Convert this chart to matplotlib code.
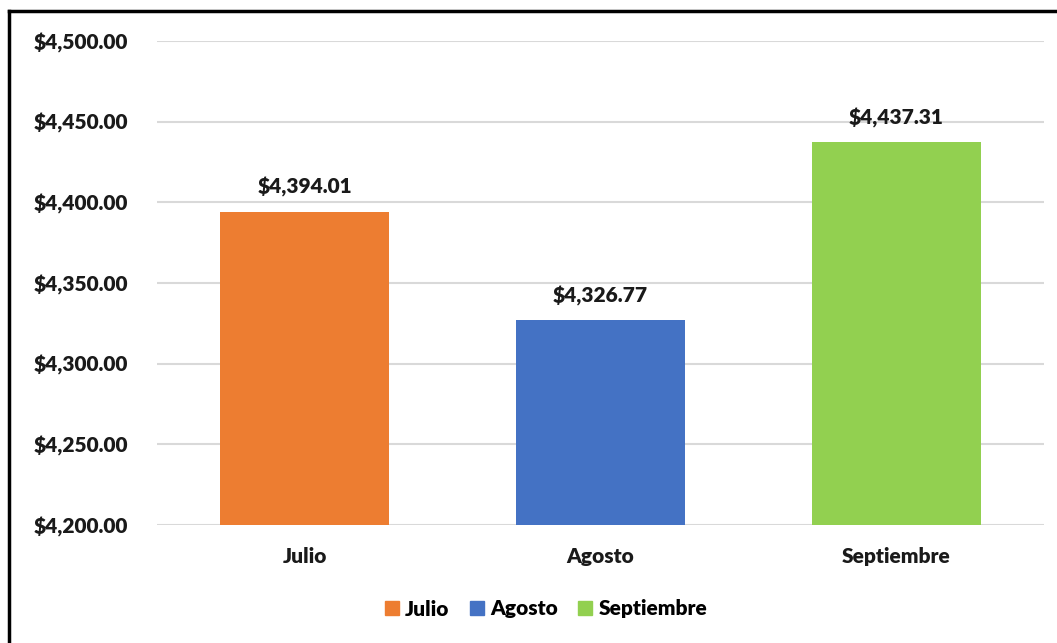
import matplotlib.pyplot as plt
from matplotlib.patches import Patch
from matplotlib.lines import Line2D

meses = ["Julio", "Agosto", "Septiembre"]
valores = [4394.01, 4326.77, 4437.31]
colores = ["#ED7D31", "#4472C4", "#92D050"]
yticks = [4200, 4250, 4300, 4350, 4400, 4450, 4500]

plt.rcParams['font.family'] = ['Lato', 'DejaVu Sans']
plt.rcParams['font.weight'] = 'heavy'

fig = plt.figure(figsize=(10.57, 6.43), dpi=100)
ax = fig.add_axes([157/1057, 1 - 525/643, (1044 - 157)/1057, (525 - 41)/643])

x = range(len(meses))
ax.bar(x, [v - 4200 for v in valores], bottom=4200, width=0.571, color=colores, zorder=3)
for i, v in enumerate(valores):
    ax.text(i, v + 9, "${:,.2f}".format(v), ha="center", va="bottom",
            fontsize=15, fontweight="heavy", color="#1a1a1a")

ax.set_xlim(-0.5, 2.5)
ax.set_ylim(4200, 4500)
ax.set_yticks(yticks)
ax.set_yticklabels(["${:,.2f}".format(t) for t in yticks])
ax.set_xticks(list(x))
ax.set_xticklabels(meses)
ax.tick_params(axis="y", length=0, pad=21, labelsize=15, labelcolor="#1a1a1a")
ax.tick_params(axis="x", length=0, pad=16, labelsize=15, labelcolor="#1a1a1a")
ax.yaxis.grid(True, color="#D9D9D9", linewidth=1.5, zorder=0)
for s in ax.spines.values():
    s.set_visible(False)

handles = [Patch(color=c) for c in colores]
fig.legend(handles, meses, loc="center", bbox_to_anchor=(546/1057, 1 - 609/643), ncol=3,
           frameon=False, fontsize=15, handlelength=0.65, handleheight=0.65,
           handletextpad=0.3, columnspacing=1.0)

# marco exterior
fig.add_artist(Line2D([9/1057, 9/1057], [0, 1 - 11/643], color="black", linewidth=2.5))
fig.add_artist(Line2D([9/1057, 1], [1 - 11/643, 1 - 11/643], color="black", linewidth=2.5))

fig.savefig("out.png", dpi=100)
